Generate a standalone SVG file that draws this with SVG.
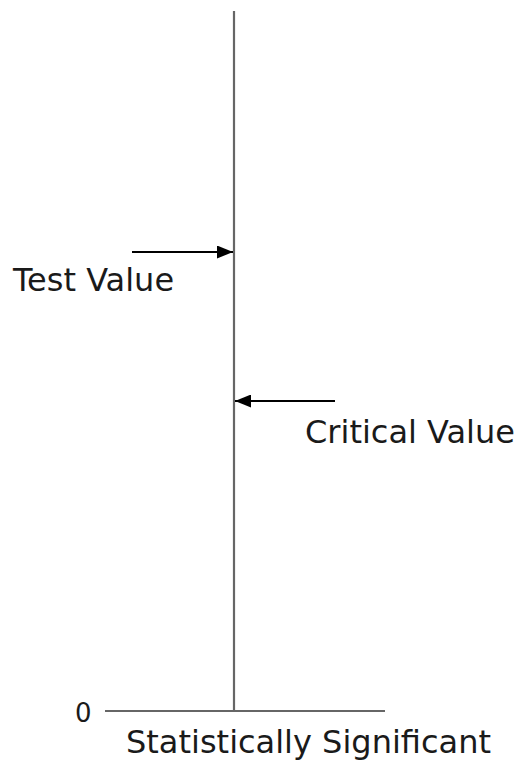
<svg xmlns="http://www.w3.org/2000/svg" width="517" height="760" viewBox="0 0 517 760">
<style>
.axis{stroke:#666666;stroke-width:2.2;fill:none}
.arr{stroke:#000000;stroke-width:1.8;fill:none}
.lbl{font-family:"DejaVu Sans",sans-serif;font-size:32px;fill:#1a1a1a}
</style>
<defs>
<marker id="ah" markerWidth="16" markerHeight="13" refX="16" refY="6.5" orient="auto" markerUnits="userSpaceOnUse">
<path d="M0,0 L16,6.5 L0,13 Z" fill="#000000"/>
</marker>
</defs>
<rect width="517" height="760" fill="#ffffff"/>
<g id="axes">
<line class="axis" x1="234" y1="11" x2="234" y2="711"/>
<line class="axis" x1="105" y1="711" x2="385" y2="711"/>
</g>
<g id="connectors">
<line class="arr" x1="132" y1="252" x2="233" y2="252" marker-end="url(#ah)"/>
<line class="arr" x1="335" y1="401" x2="235" y2="401" marker-end="url(#ah)"/>
</g>
<g id="test-value"><text class="lbl" x="13" y="291">Test Value</text></g>
<g id="critical-value"><text class="lbl" x="305" y="443">Critical Value</text></g>
<g id="zero"><text class="lbl" x="75" y="722" style="font-size:26px">0</text></g>
<g id="significant"><text class="lbl" x="126" y="753">Statistically Significant</text></g>
</svg>
